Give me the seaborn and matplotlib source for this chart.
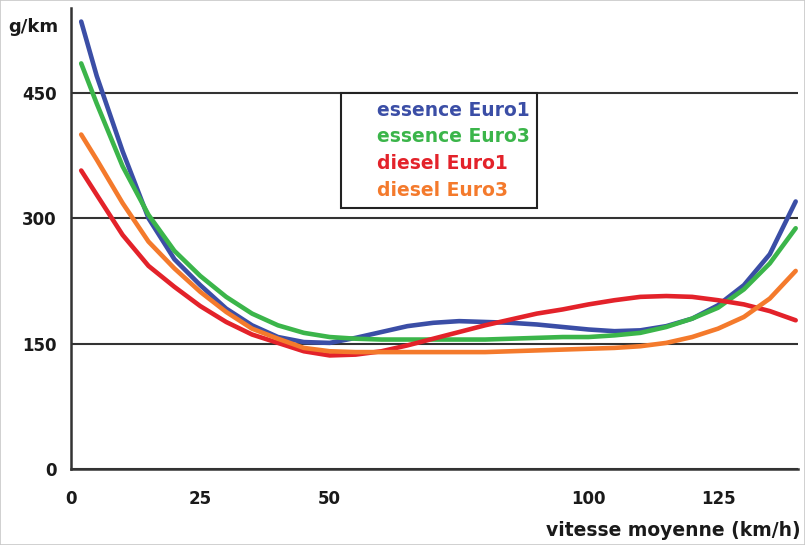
import matplotlib
matplotlib.use("Agg")
import matplotlib.pyplot as plt
import seaborn as sns
import numpy as np
import pandas as pd
from matplotlib.patches import Rectangle

# vitesse moyenne (km/h)
speed = [2, 5, 10, 15, 20, 25, 30, 35, 40, 45, 50, 55, 60, 65, 70, 75,
         80, 85, 90, 95, 100, 105, 110, 115, 120, 125, 130, 135, 140]

# emissions g/km
essence_euro1 = [535, 470, 380, 300, 251, 220, 192, 172, 158, 152, 151, 157, 164, 171, 175, 177,
                 176, 175, 173, 170, 167, 165, 166, 171, 180, 196, 220, 257, 320]
essence_euro3 = [485, 437, 362, 304, 261, 231, 206, 186, 172, 163, 158, 156, 155, 155, 155, 155,
                 155, 156, 157, 158, 158, 160, 163, 170, 180, 193, 215, 246, 288]
diesel_euro1 = [357, 328, 280, 243, 218, 195, 176, 161, 151, 141, 136, 137, 141, 148, 156, 164,
                172, 179, 186, 191, 197, 202, 206, 207, 206, 202, 197, 189, 178]
diesel_euro3 = [400, 370, 318, 272, 240, 212, 188, 168, 156, 145, 141, 140, 140, 140, 140, 140,
                140, 141, 142, 143, 144, 145, 147, 151, 158, 168, 182, 204, 237]

series_names = ["essence Euro1", "essence Euro3", "diesel Euro1", "diesel Euro3"]
series_colors = ["#3b4ea6", "#3bb54a", "#e3222a", "#f47a2c"]

xticks = [0, 25, 50, 75, 100, 125]
xtick_labels = ["0", "25", "50", "", "100", "125"]
yticks = [0, 150, 300, 450]

frames = []
for name, vals in zip(series_names, [essence_euro1, essence_euro3, diesel_euro1, diesel_euro3]):
    frames.append(pd.DataFrame({"speed": speed, "gkm": vals, "serie": name}))
df = pd.concat(frames, ignore_index=True)

sns.set_style("white")
plt.rcParams['font.family'] = ['DejaVu Sans']

fig = plt.figure(figsize=(8.05, 5.45), dpi=100)
ax = fig.add_axes([0.088, 0.139, 0.903, 0.846])

sns.lineplot(data=df, x="speed", y="gkm", hue="serie", hue_order=series_names,
             palette=dict(zip(series_names, series_colors)), linewidth=3.3,
             solid_capstyle="round", solid_joinstyle="round", ax=ax)

ax.set_xlim(0, 140.4)
ax.set_ylim(0, 551)
ax.set_xlabel("")
ax.set_ylabel("")

dark = "#333333"
ax.set_axisbelow(True)
ax.grid(axis="y", color=dark, linewidth=1.5)
ax.grid(axis="x", visible=False)
for side in ["top", "right"]:
    ax.spines[side].set_visible(False)
for side in ["left", "bottom"]:
    ax.spines[side].set_color(dark)
    ax.spines[side].set_linewidth(1.8)

ax.set_xticks(xticks, labels=xtick_labels, fontweight="bold", fontsize=12, color="#1a1a1a")
ax.set_yticks(yticks, labels=[str(v) for v in yticks], fontweight="bold", fontsize=12, color="#1a1a1a")
ax.tick_params(axis="y", length=7, width=1.5, color=dark, pad=3, direction="out")
ax.tick_params(axis="x", length=5, width=1.5, color=dark, pad=10, direction="out")

handles, labels = ax.get_legend_handles_labels()
leg = ax.legend(handles, labels, loc="upper left", bbox_to_anchor=(0.372, 0.816),
                prop={"weight": "bold", "size": 13.5}, borderaxespad=0,
                handlelength=1.0, handletextpad=0.5, borderpad=0.4, labelspacing=0.42,
                fancybox=False, framealpha=1, edgecolor="#222222")
leg.get_frame().set_linewidth(1.5)
for h in leg.legend_handles:
    h.set_visible(False)
for txt, c in zip(leg.get_texts(), series_colors):
    txt.set_color(c)

fig.text(8 / 805, 1 - 27 / 545, "g/km", fontsize=13, fontweight="bold",
         ha="left", va="center", color="#1a1a1a")
fig.text(0.994, 1 - 531 / 545, "vitesse moyenne (km/h)", fontsize=13.5,
         fontweight="bold", ha="right", va="center", color="#1a1a1a")

fig.patches.append(Rectangle((0, 0), 1, 1, transform=fig.transFigure, fill=False,
                             edgecolor="#c8c8c8", linewidth=1.2))

fig.savefig("out.png", dpi=100)
